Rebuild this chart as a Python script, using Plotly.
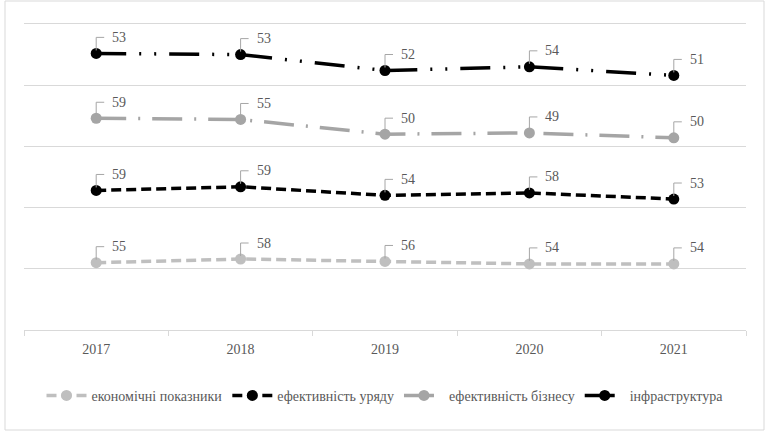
import plotly.graph_objects as go
import numpy as np

years = ["2017", "2018", "2019", "2020", "2021"]
series_names = ["економічні показники", "ефективність уряду", "ефективність бізнесу", "інфраструктура"]
econ = [55, 58, 56, 54, 54]
gov = [59, 59, 54, 58, 53]
bus = [59, 55, 50, 49, 50]
infra = [53, 53, 52, 54, 51]

values = [econ, gov, bus, infra]
colors = ["#BFBFBF", "#000000", "#A5A5A5", "#000000"]
dashes = ["10px,5px", "10px,5px", "30px,12px,2px,12px", "30px,13px,2px,13px,2px,13px"]

FONT = "Liberation Serif, DejaVu Serif, serif"
TXT = "#595959"

fig = go.Figure()
for name, vals, col, dsh in zip(series_names, values, colors, dashes):
    fig.add_trace(go.Scatter(
        x=years, y=vals, name=name, stackgroup="one", fill="none",
        mode="lines+markers",
        line=dict(color=col, width=3.5, dash=dsh),
        marker=dict(color=col, size=11),
    ))

# data labels with leader lines
cum = np.cumsum(np.array(values), axis=0)
for vals, c in zip(values, cum):
    for i, (v, cy) in enumerate(zip(vals, c)):
        cy = float(cy)
        fig.add_annotation(x=i, y=cy, text=str(v), showarrow=False,
                           xanchor="left", yanchor="middle", xshift=14, yshift=16,
                           font=dict(family=FONT, size=14, color=TXT))
        fig.add_shape(type="path", xref="x", yref="y", xsizemode="pixel", ysizemode="pixel",
                      xanchor=i, yanchor=cy, path="M0,3 L0,16 L8,16",
                      line=dict(color="#A6A6A6", width=1))

W, H = 766, 432
ml, mr, mt, mb = 24, 20, 24, 102
pw, ph = W - ml - mr, H - mt - mb
# outer chart border
fig.add_shape(type="rect", xref="paper", yref="paper",
              x0=(5 - ml) / pw, x1=(764 - ml) / pw, y0=-(430 - mt - ph) / ph, y1=1 + (mt - 1) / ph,
              line=dict(color="#D9D9D9", width=1), layer="above")

fig.update_layout(
    width=W, height=H, margin=dict(l=ml, r=mr, t=mt, b=mb),
    paper_bgcolor="white", plot_bgcolor="white",
    font=dict(family=FONT, size=14, color=TXT),
    showlegend=True,
    legend=dict(orientation="h", x=0.5, xanchor="center", y=-0.215, yanchor="middle",
                font=dict(family=FONT, size=14, color=TXT), itemwidth=40, traceorder="normal"),
    xaxis=dict(type="category", showgrid=False, showline=True, mirror=True, linecolor="#D9D9D9", linewidth=1,
               ticks="outside", tickson="boundaries", ticklen=5, tickcolor="#D9D9D9",
               ticklabelstandoff=6, tickfont=dict(family=FONT, size=14, color=TXT),
               range=[-0.5, 4.5]),
    yaxis=dict(range=[0, 250], tickvals=[50, 100, 150, 200], showticklabels=False, showgrid=True,
               gridcolor="#D9D9D9", gridwidth=1, zeroline=False, showline=False, ticks=""),
)

fig.write_html("out.html", config={"displayModeBar": False},
               post_script="document.body.style.margin='0';document.body.style.padding='0';")
